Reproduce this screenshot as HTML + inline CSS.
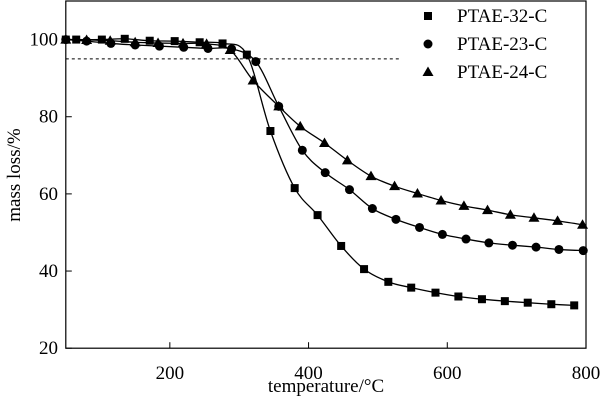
<!DOCTYPE html>
<html><head><meta charset="utf-8">
<style>
html,body{margin:0;padding:0;background:#fff;}
svg{display:block;font-family:"Liberation Serif",serif;}
</style></head>
<body>
<svg id="chart" width="602" height="401" viewBox="0 0 602 401">
<g id="axes"></g><g id="series"></g>
</svg>
<script>
const xTicks=[200,400,600,800];
const yTicks=[20,40,60,80,100];
const seriesNames=["PTAE-32-C","PTAE-23-C","PTAE-24-C"];
const t32=[50,65,102,135,171,207,243,276,311,345,380,413,447,480,515,548,583,616,650,683,716,750,783];
const v32=[100,100,100,100.2,99.7,99.6,99.3,99,96.1,76.3,61.5,54.5,46.5,40.5,37.2,35.7,34.4,33.4,32.7,32.2,31.8,31.4,31.1];
const t23=[50,80,115,150,185,220,255,289,324,357,391,424,459,492,526,560,593,627,660,694,728,761,796];
const v23=[100,99.6,99.0,98.6,98.3,98.0,97.7,97.6,94.3,82.7,71.3,65.5,61.1,56.2,53.4,51.3,49.5,48.3,47.3,46.7,46.2,45.6,45.3];
const t24=[50,80,114,150,183,219,253,287,320,357,388,423,456,490,524,557,591,624,658,691,725,759,795];
const v24=[100,99.9,99.7,99.3,99.1,99,98.9,97.3,89.4,82.7,77.5,73.2,68.7,64.6,62,60.1,58.3,56.9,55.8,54.6,53.8,53,52];
const threshold=95;

const NS="http://www.w3.org/2000/svg";
const X0=65.8,X1=586,Y0=1,Y1=348.2;
const xMin=50,xMax=800,yMin=20,yMax=110;
function xs(t){return X0+(t-xMin)*(X1-X0)/(xMax-xMin);}
function ys(v){return Y1-(v-yMin)*(Y1-Y0)/(yMax-yMin);}
function mk(tag,attrs,parent){const e=document.createElementNS(NS,tag);for(const k in attrs)e.setAttribute(k,attrs[k]);parent.appendChild(e);return e;}
const axes=document.getElementById('axes'),ser=document.getElementById('series');

const frame=mk('rect',{x:X0,y:Y0,width:X1-X0,height:Y1-Y0,fill:'none',stroke:'#000','stroke-width':1.2},axes);


xTicks.forEach(t=>{
  const l=mk('line',{x1:xs(t),x2:xs(t),y1:Y1,y2:Y1-6,stroke:'#000'},axes);
  
  
  const tx=mk('text',{x:xs(t),y:379,'text-anchor':'middle','font-size':19},axes);
  tx.textContent=t;
  
  
});
yTicks.forEach(v=>{
  const l=mk('line',{x1:X0,x2:X0+6,y1:ys(v),y2:ys(v),stroke:'#000'},axes);
  
  
  const tx=mk('text',{x:58,y:ys(v)+6,'text-anchor':'end','font-size':19},axes);
  tx.textContent=v;
  
  
});
const xl=mk('text',{x:326,y:392,'text-anchor':'middle','font-size':19},axes);
xl.textContent='temperature/°C';


const yl=mk('text',{x:0,y:0,'text-anchor':'middle','font-size':19,transform:'translate(20,175) rotate(-90)'},axes);
yl.textContent='mass loss/%';


const dl=mk('line',{x1:X0,x2:400,y1:ys(threshold),y2:ys(threshold),stroke:'#000','stroke-dasharray':'3,3','stroke-width':1},axes);



function pathD(ts,vs){
  const p=ts.map((t,i)=>[xs(t),ys(vs[i])]);
  let d='M'+p[0][0]+','+p[0][1];
  for(let i=0;i<p.length-1;i++){
    const a=p[Math.max(0,i-1)],b=p[i],c=p[i+1],e=p[Math.min(p.length-1,i+2)];
    const c1=[b[0]+(c[0]-a[0])/6,b[1]+(c[1]-a[1])/6],c2=[c[0]-(e[0]-b[0])/6,c[1]-(e[1]-b[1])/6];
    d+=' C'+c1+' '+c2+' '+c;
  }
  return d;
}
function marker(shape,x,y,parent){
  if(shape==='square')return mk('rect',{x:x-4,y:y-4,width:8,height:8,fill:'#000'},parent);
  if(shape==='circle')return mk('circle',{cx:x,cy:y,r:4.5,fill:'#000'},parent);
  return mk('polygon',{points:`${x},${y-5.5} ${x-5.5},${y+4} ${x+5.5},${y+4}`,fill:'#000'},parent);
}
const data=[[t32,v32,'square'],[t23,v23,'circle'],[t24,v24,'triangle']];
data.forEach(([ts,vs,sh],k)=>{
  const g=mk('g',{},ser);
  
  
  const p=mk('path',{d:pathD(ts,vs),fill:'none',stroke:'#000','stroke-width':1.3},g);
  
  
  ts.forEach((t,i)=>{
    const m=marker(sh,xs(t),ys(vs[i]),g);
    
    
  });
  const ly=16+k*28;
  const lm=marker(sh,428,ly,g);
  
  
  const lt=mk('text',{x:457,y:ly+6,'font-size':19},g);
  lt.textContent=seriesNames[k];
  
  
});
</script>
</body></html>
